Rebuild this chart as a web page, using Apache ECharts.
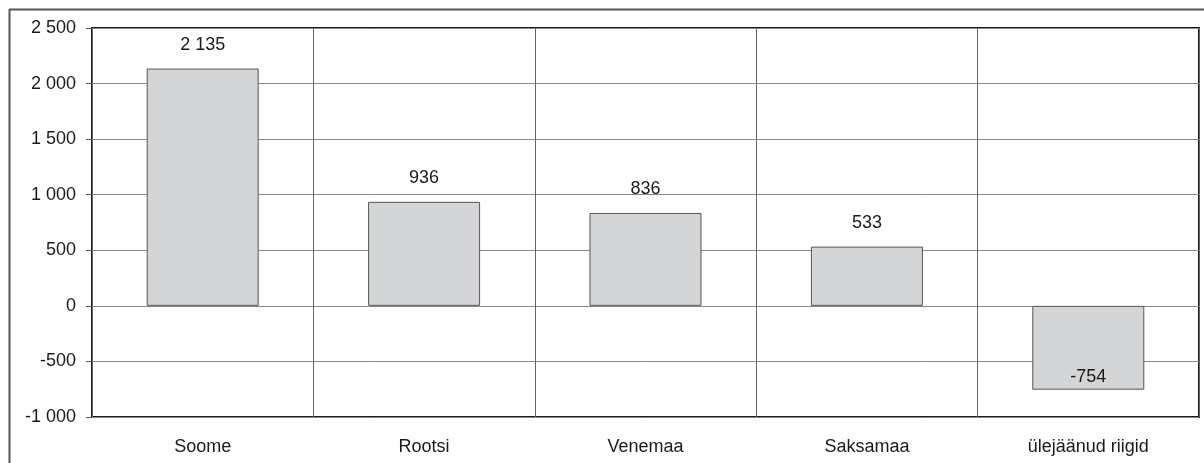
<!DOCTYPE html>
<html><head><meta charset="utf-8">
<script src="https://cdn.jsdelivr.net/npm/echarts@6/dist/echarts.min.js"></script>
<style>html,body{margin:0;padding:0;background:#fff}#c{width:1204px;height:463px}</style>
</head><body><div id="c"></div>
<script>
const categories = ['Soome', 'Rootsi', 'Venemaa', 'Saksamaa', 'ülejäänud riigid'];
const values = [2135, 936, 836, 533, -754];
const yTicks = { min: -1000, max: 2500, interval: 500 };

function fmt(v) {
  const s = Math.abs(v).toString().replace(/\B(?=(\d{3})+(?!\d))/g, ' ');
  return (v < 0 ? '-' : '') + s;
}
const chart = echarts.init(document.getElementById('c'), null, { renderer: 'canvas' });
chart.setOption({
  animation: false,
  textStyle: { fontFamily: 'Liberation Sans, Arial, sans-serif' },
  graphic: [
    { type: 'line', shape: { x1: 9, y1: 9.5, x2: 1204, y2: 9.5 }, style: { stroke: '#555', lineWidth: 2 } },
    { type: 'line', shape: { x1: 9.5, y1: 9, x2: 9.5, y2: 463 }, style: { stroke: '#555', lineWidth: 2 } }
  ],
  grid: { left: 92, right: 5, top: 28, bottom: 46, show: true, borderColor: '#1a1a1a', borderWidth: 2, backgroundColor: 'transparent' },
  xAxis: {
    type: 'category', data: categories, position: 'bottom',
    axisLine: { show: false }, axisTick: { show: false },
    axisLabel: { color: '#1a1a1a', fontSize: 18, margin: 21 },
    splitLine: { show: true, lineStyle: { color: '#666', width: 1 } }
  },
  yAxis: {
    type: 'value', min: yTicks.min, max: yTicks.max, interval: yTicks.interval,
    axisLine: { show: false },
    axisTick: { show: true, inside: false, length: 6, lineStyle: { color: '#555' } },
    axisLabel: { color: '#1a1a1a', fontSize: 18, margin: 16, formatter: fmt },
    splitLine: { show: true, lineStyle: { color: '#888', width: 1 } }
  },
  series: [{
    type: 'bar', data: values.map(v => ({
      value: v,
      label: v < 0 ? { position: 'insideBottom', distance: 4 } : { position: 'top', distance: 15 }
    })),
    barWidth: 112,
    itemStyle: { color: '#d4d5d7', borderColor: '#555', borderWidth: 1 },
    label: { show: true, color: '#1a1a1a', fontSize: 18, formatter: p => fmt(p.value) }
  }]
});
</script></body></html>
